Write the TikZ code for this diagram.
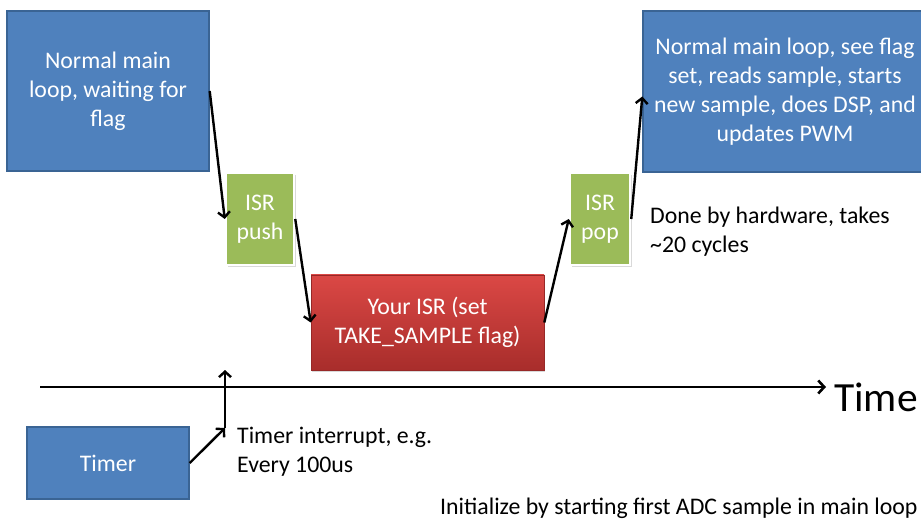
\documentclass[tikz,border=0pt]{standalone}
\usepackage{fontspec}
\setmainfont{Carlito}
\usetikzlibrary{arrows.meta,shadows,calc}
\definecolor{boxblue}{HTML}{4F81BD}
\definecolor{blueedge}{HTML}{3A6494}
\definecolor{boxgreen}{HTML}{9BBB59}
\definecolor{redtop}{HTML}{DB4845}
\definecolor{redbot}{HTML}{A82D2B}
\begin{document}
\begin{tikzpicture}[x=1pt,y=-1pt,
  txt/.style={font=\fontsize{23.8}{28.8}\selectfont},
  bluebox/.style={txt,draw=blueedge,line width=1.4pt,fill=boxblue,text=white,align=center,inner sep=0pt},
  greenbox/.style={txt,draw=white,line width=2.5pt,fill=boxgreen,text=white,align=center,inner sep=0pt,
    minimum height=92pt,drop shadow={opacity=0.3,shadow xshift=1.5pt,shadow yshift=-2pt}},
  redbox/.style={txt,top color=redtop,bottom color=redbot,draw=redbot!90!black,line width=0.6pt,text=white,align=center,inner sep=0pt,
    drop shadow={opacity=0.3,shadow xshift=1pt,shadow yshift=-2pt}},
  note/.style={txt,align=left,anchor=west,inner sep=0pt},
  flow/.style={line width=2.4pt,-{Straight Barb[length=5.5pt,width=12pt]}},
]
\useasboundingbox (0,0) rectangle (921,521);

% boxes
\node[bluebox,minimum width=202pt,minimum height=160pt] (m1) at (108,91) {Normal main\\loop, waiting for\\flag};
\node[greenbox,minimum width=68pt] (push) at (260,219) {ISR\\push};
\node[redbox,minimum width=233pt,minimum height=95pt] (isr) at (427.5,322.5) {Your ISR (set\\TAKE\_SAMPLE flag)};
\node[greenbox,minimum width=60pt] (pop) at (600,219) {ISR\\pop};
\node[bluebox,minimum width=284pt,minimum height=161pt] (m2) at (785,91.5) {Normal main loop, see flag\\set, reads sample, starts\\new sample, does DSP, and\\updates PWM};
\node[bluebox,minimum width=162pt,minimum height=72pt] (timer) at (108,463) {Timer};

% notes
\node[note] (hw) at (650,232) {Done by hardware, takes\\\textasciitilde20 cycles};
\node[note] (irq) at (237,452) {Timer interrupt, e.g.\\Every 100us};
\node[note] (init) at (440,508) {Initialize by starting first ADC sample in main loop};

% time axis
\coordinate (t0) at (40,387);
\coordinate (t1) at (826,387);
\node[anchor=west,inner sep=0pt,font=\fontsize{41.5}{44}\selectfont] (time) at (834,397) {Time};
\draw[line width=2.6pt,-{Straight Barb[length=6pt,width=13pt]}] (t0) -- (t1);

% execution flow
\draw[flow] (m1.east) -- (push.west);
\draw[flow] (push.east) -- (isr.west);
\draw[flow] (isr.east) -- (pop.west);
\draw[flow] (pop.east) -- ($(m2.west)+(0,5)$);

% interrupt trigger
\coordinate (trig) at (225,428);
\coordinate (trigtop) at (225,370);
\draw[flow] (timer.east) -- (trig);
\draw[flow] (trig) -- (trigtop);
\end{tikzpicture}
\end{document}
